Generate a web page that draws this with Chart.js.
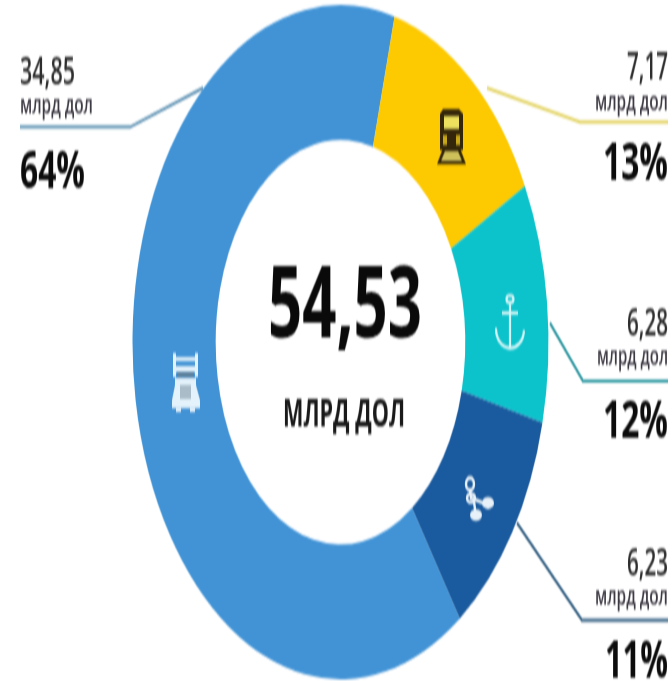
<!DOCTYPE html>
<html lang="ru">
<head>
<meta charset="utf-8">
<style>
html,body{margin:0;padding:0;background:#fff;overflow:hidden;width:672px;height:681px}
#wrap{width:672px;height:681px;overflow:hidden}
#c{display:block;transform-origin:0 0;transform:scaleY(1.6214);filter:blur(0.7px)}
</style>
<script src="https://cdn.jsdelivr.net/npm/chart.js@4/dist/chart.umd.js"></script>
</head>
<body>
<div id="wrap"><canvas id="c" width="672" height="420"></canvas></div>
<script>
const categories = ["Автомобильный", "Железнодорожный", "Морской", "Трубопроводный"];
const values = [34.85, 7.17, 6.28, 6.23];
const percents = ["64%", "13%", "12%", "11%"];
const colors = ["#4193d6", "#fdc900", "#0cc3cc", "#1a5a9e"];
const totalLabel = "54,53";
const unitUpper = "МЛРД ДОЛ";
const unitLower = "млрд дол";

const K = 681 / 420;
const Y = y => y / K;
const FONT = '"Open Sans", sans-serif';

// Layout, in page pixels
const leaders = [
  {color:"#6496b6", pts:[[203,88],[130,127],[20,127]]},
  {color:"#e3d466", pts:[[487,88],[580,122],[668,122]]},
  {color:"#2f98a2", pts:[[550,323],[583,381],[668,381]]},
  {color:"#335f82", pts:[[517,523],[582,620],[668,620]]}
];
const blocks = [
  {x:20, align:"left", base:[85,114,188], w:[55,73,65]},
  {x:668, align:"right", base:[80,111,180], w:[41,73,65]},
  {x:668, align:"right", base:[335,365,437], w:[41,71,65]},
  {x:668, align:"right", base:[575,604,678], w:[41,73,63]}
];

function poly(ctx, pts, close){
  ctx.beginPath();
  pts.forEach((p,i)=> i ? ctx.lineTo(p[0],Y(p[1])) : ctx.moveTo(p[0],Y(p[1])));
  if(close) ctx.closePath();
}
function rect(ctx,x,y,w,h){ ctx.fillRect(x,Y(y),w,h/K); }
function oval(ctx,x,y,r){ ctx.beginPath(); ctx.ellipse(x,Y(y),r,r/K,0,0,Math.PI*2); }

function drawTruck(ctx){
  ctx.fillStyle="#e4f2fb";
  rect(ctx,173,353,3,24); rect(ctx,195,353,3,24);
  rect(ctx,173,357,25,4);
  rect(ctx,175,366,21,6);
  rect(ctx,175,378,21,12);
  poly(ctx,[[175,385],[196,385],[200,400],[200,408],[172,408],[172,400]],true); ctx.fill();
  rect(ctx,176,408,5,4); rect(ctx,190,408,5,4);
  ctx.fillStyle="#5d7f99";
  rect(ctx,177,372,17,5);
  ctx.fillStyle="#a9bcc8";
  rect(ctx,180,385,11,14);
}
function drawTrain(ctx){
  const dark="#33260a";
  ctx.fillStyle=dark;
  poly(ctx,[[443,109],[459,109],[463,114],[463,150],[440,150],[440,114]],true); ctx.fill();
  ctx.fillStyle="#ece05e";
  rect(ctx,444,116,15,13);
  ctx.fillStyle="#c8a818";
  rect(ctx,443,135,4,10); rect(ctx,456,135,4,10);
  ctx.fillStyle=dark;
  poly(ctx,[[443,148],[460,148],[466,164],[437,164]],true); ctx.fill();
  ctx.fillStyle="#cfc15a";
  poly(ctx,[[445,151],[458,151],[462,161],[441,161]],true); ctx.fill();
}
function drawAnchor(ctx){
  ctx.strokeStyle="#d4f5f6"; ctx.lineWidth=2.2;
  ctx.beginPath(); ctx.ellipse(510,Y(299),3.5,3.5/K,0,0,Math.PI*2); ctx.stroke();
  poly(ctx,[[510,304],[510,348]]); ctx.stroke();
  poly(ctx,[[502,313],[518,313]]); ctx.stroke();
  ctx.beginPath(); ctx.ellipse(510,Y(329),14,19/K,0.05,0,Math.PI); ctx.stroke();
}
function drawNetwork(ctx){
  ctx.strokeStyle="#e8f1f8"; ctx.fillStyle="#e8f1f8"; ctx.lineWidth=2.4;
  ctx.beginPath(); ctx.ellipse(470,Y(484),4,6/K,0,0,Math.PI*2); ctx.stroke();
  poly(ctx,[[470,490],[471,498],[486,504]]); ctx.stroke();
  poly(ctx,[[474,502],[476,516]]); ctx.stroke();
  oval(ctx,471,498,4); ctx.stroke();
  oval(ctx,488,503,6); ctx.fill();
  oval(ctx,476,515,6); ctx.fill();
}

const annotate = {
  id:"annotate",
  afterDraw(chart){
    const ctx = chart.ctx;
    ctx.save();
    ctx.lineJoin="miter";
    leaders.forEach(l=>{
      ctx.strokeStyle=l.color; ctx.lineWidth=2;
      poly(ctx,l.pts); ctx.stroke();
    });
    ctx.textBaseline="alphabetic";
    blocks.forEach((b,i)=>{
      ctx.textAlign=b.align;
      ctx.fillStyle="#2e2e2e";
      ctx.font="600 24px "+FONT;
      ctx.fillText(values[i].toFixed(2).replace(".",","),b.x,Y(b.base[0]),b.w[0]);
      ctx.fillStyle="#3e3a44";
      ctx.font="600 16px "+FONT;
      ctx.fillText(unitLower,b.x,Y(b.base[1]),b.w[1]);
      ctx.fillStyle="#0c0c0c";
      ctx.font="700 32px "+FONT;
      ctx.fillText(percents[i],b.x,Y(b.base[2]),b.w[2]);
    });
    ctx.textAlign="center";
    ctx.fillStyle="#0a0a0a";
    ctx.font="700 60px "+FONT;
    ctx.fillText(totalLabel,345,Y(337),154);
    ctx.fillStyle="#1a1a1a";
    ctx.font="700 24px "+FONT;
    ctx.fillText(unitUpper,344,Y(427),122);
    drawTruck(ctx); drawTrain(ctx); drawAnchor(ctx); drawNetwork(ctx);
    ctx.restore();
  }
};

new Chart(document.getElementById("c"),{
  type:"doughnut",
  data:{labels:categories,datasets:[{data:values,backgroundColor:colors,borderWidth:0}]},
  options:{
    responsive:false,
    animation:false,
    rotation:145,
    cutout:"60%",
    layout:{padding:{left:9,right:0,top:3,bottom:1}},
    plugins:{legend:{display:false},tooltip:{enabled:false}}
  },
  plugins:[annotate]
});
</script>
</body>
</html>
